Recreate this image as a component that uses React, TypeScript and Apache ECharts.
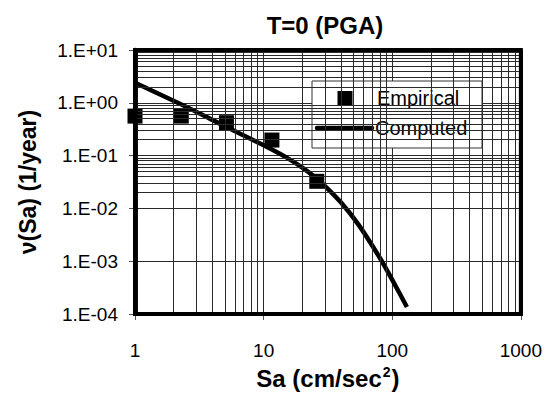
import React, { useEffect, useRef } from "react";
import * as echarts from "echarts";

const titleText = "T=0 (PGA)";
const xTickLabels = ["1", "10", "100", "1000"];
const yTickLabels = ["1.E-04", "1.E-03", "1.E-02", "1.E-01", "1.E+00", "1.E+01"];

const X_MIN = 1;
const X_MAX = 1000;
const Y_MIN = 0.0001;
const Y_MAX = 10;

const empiricalX = [1, 2.29, 5.14, 11.6, 25.9];
const empiricalY = [0.56, 0.56, 0.42, 0.197, 0.0326];

const computedX = [1, 2.5, 5, 10, 15, 20, 25, 30, 40, 55, 80, 100, 130];
const computedY = [2.4, 0.84, 0.36, 0.157, 0.0927, 0.0593, 0.0393, 0.0265, 0.0129, 0.00482, 0.00116, 0.000444, 0.000136];

const xMinorGrid = [2, 3, 4, 5, 6, 7, 8, 9, 20, 30, 40, 50, 60, 70, 80, 90, 200, 300, 400, 500, 600, 700, 800, 900];
const yMinorGrid = [
  0.0002, 0.0003, 0.0004, 0.0005, 0.0006, 0.0007, 0.0008, 0.0009,
  0.002, 0.003, 0.004, 0.005, 0.006, 0.007, 0.008, 0.009,
  0.02, 0.03, 0.04, 0.05, 0.06, 0.07, 0.08, 0.09,
  0.2, 0.3, 0.4, 0.5, 0.6, 0.7, 0.8, 0.9,
  2, 3, 4, 5, 6, 7, 8, 9,
];

const FONT = "'Liberation Sans', Arial, sans-serif";

export default function App() {
  const ref = useRef<HTMLDivElement>(null);
  useEffect(() => {
    if (!ref.current) return;
    const chart = echarts.init(ref.current, null, { renderer: "svg" });
    const gridColor = "#2a2a2a";
    chart.setOption({
      animation: false,
      backgroundColor: "#fff",
      title: {
        text: titleText,
        left: 320,
        top: 8,
        textAlign: "center",
        textStyle: { fontFamily: FONT, fontSize: 24, fontWeight: "bold", color: "#000", lineHeight: 24 },
      },
      grid: { left: 135, right: 23, top: 50, bottom: 89, show: false },
      xAxis: {
        type: "log",
        logBase: 10,
        min: X_MIN,
        max: X_MAX,
        name: "{a|Sa (cm/sec}{s|2}{a|)}",
        nameLocation: "middle",
        nameGap: 42,
        nameTextStyle: {
          rich: {
            a: { fontFamily: FONT, fontSize: 24, fontWeight: "bold", color: "#000", lineHeight: 28 },
            s: { fontFamily: FONT, fontSize: 14, fontWeight: "bold", color: "#000", verticalAlign: "top", lineHeight: 28, padding: [0, 1, 12, 1] },
          },
        },
        axisLine: { show: true, onZero: false, lineStyle: { color: "#000", width: 4 } },
        axisTick: { show: true, length: 6, lineStyle: { color: "#555", width: 1 } },
        axisLabel: {
          margin: 27,
          fontFamily: FONT,
          fontSize: 19,
          color: "#000",
          formatter: (_v: number, i: number) => xTickLabels[i] ?? "",
        },
        splitLine: { show: true, lineStyle: { color: gridColor, width: 1 } },
      },
      yAxis: {
        type: "log",
        logBase: 10,
        min: Y_MIN,
        max: Y_MAX,
        name: "ν(Sa) (1/year)",
        nameLocation: "middle",
        nameRotate: 90,
        nameGap: 96,
        nameTextStyle: { fontFamily: FONT, fontSize: 23, fontWeight: "bold", color: "#000" },
        axisLine: { show: true, onZero: false, lineStyle: { color: "#000", width: 4.5 } },
        axisTick: { show: true, length: 6, lineStyle: { color: "#555", width: 1 } },
        axisLabel: {
          margin: 17,
          fontFamily: FONT,
          fontSize: 19,
          color: "#000",
          formatter: (_v: number, i: number) => yTickLabels[i] ?? "",
        },
        splitLine: { show: true, lineStyle: { color: gridColor, width: 1 } },
      },
      series: [
        {
          type: "line",
          data: [],
          z: 1,
          markLine: {
            silent: true,
            symbol: ["none", "none"],
            label: { show: false },
            lineStyle: { color: gridColor, width: 1, type: "solid" },
            data: [
              ...xMinorGrid.map((v) => ({ xAxis: v })),
              ...yMinorGrid.map((v) => ({ yAxis: v })),
            ],
          },
        },
        {
          type: "line",
          data: [],
          z: 6,
          markLine: {
            silent: true,
            symbol: ["none", "none"],
            label: { show: false },
            lineStyle: { color: "#000", width: 4, type: "solid" },
            data: [
              { xAxis: X_MIN, lineStyle: { color: "#000", width: 4.5, type: "solid" } },
              { xAxis: X_MAX },
              { yAxis: Y_MIN },
              { yAxis: Y_MAX },
            ],
          },
        },
        {
          type: "line",
          name: "Computed",
          z: 3,
          data: computedX.map((x, i) => [x, computedY[i]]),
          showSymbol: false,
          symbol: "none",
          smooth: 0.2,
          clip: false,
          lineStyle: { color: "#000", width: 4.5 },
        },
        {
          type: "scatter",
          name: "Empirical",
          z: 4,
          data: empiricalX.map((x, i) => [x, empiricalY[i]]),
          symbol: "rect",
          symbolSize: 15,
          clip: false,
          itemStyle: { color: "#000", opacity: 1 },
        },
      ],
    });

    const tl = chart.convertToPixel({ xAxisIndex: 0, yAxisIndex: 0 }, [X_MIN, Y_MAX]) as number[];
    const br = chart.convertToPixel({ xAxisIndex: 0, yAxisIndex: 0 }, [X_MAX, Y_MIN]) as number[];

    chart.setOption({
      graphic: [
        {
          id: "frame",
          type: "rect",
          z: 50,
          silent: true,
          shape: { x: tl[0], y: tl[1], width: br[0] - tl[0], height: br[1] - tl[1] },
          style: { fill: "none", stroke: "#000", lineWidth: 4 },
        },
        {
          id: "legend",
          type: "group",
          z: 100,
          children: [
            { type: "rect", shape: { x: 312, y: 81, width: 170, height: 67 }, style: { fill: "#fff", stroke: "#333", lineWidth: 1 } },
            { type: "rect", shape: { x: 337.5, y: 91, width: 15, height: 15 }, style: { fill: "#000" } },
            { type: "line", shape: { x1: 317, y1: 128, x2: 372, y2: 128 }, style: { stroke: "#000", lineWidth: 4.5, lineCap: "round" } },
            { type: "text", x: 377, y: 98, style: { text: "Empirical", font: `20px ${FONT}`, fill: "#000", textVerticalAlign: "middle" } },
            { type: "text", x: 375, y: 128, style: { text: "Computed", font: `20px ${FONT}`, fill: "#000", textVerticalAlign: "middle" } },
          ],
        },
      ],
    });
    return () => chart.dispose();
  }, []);
  return <div ref={ref} style={{ position: "fixed", left: 0, top: 0, width: 545, height: 403 }} />;
}
